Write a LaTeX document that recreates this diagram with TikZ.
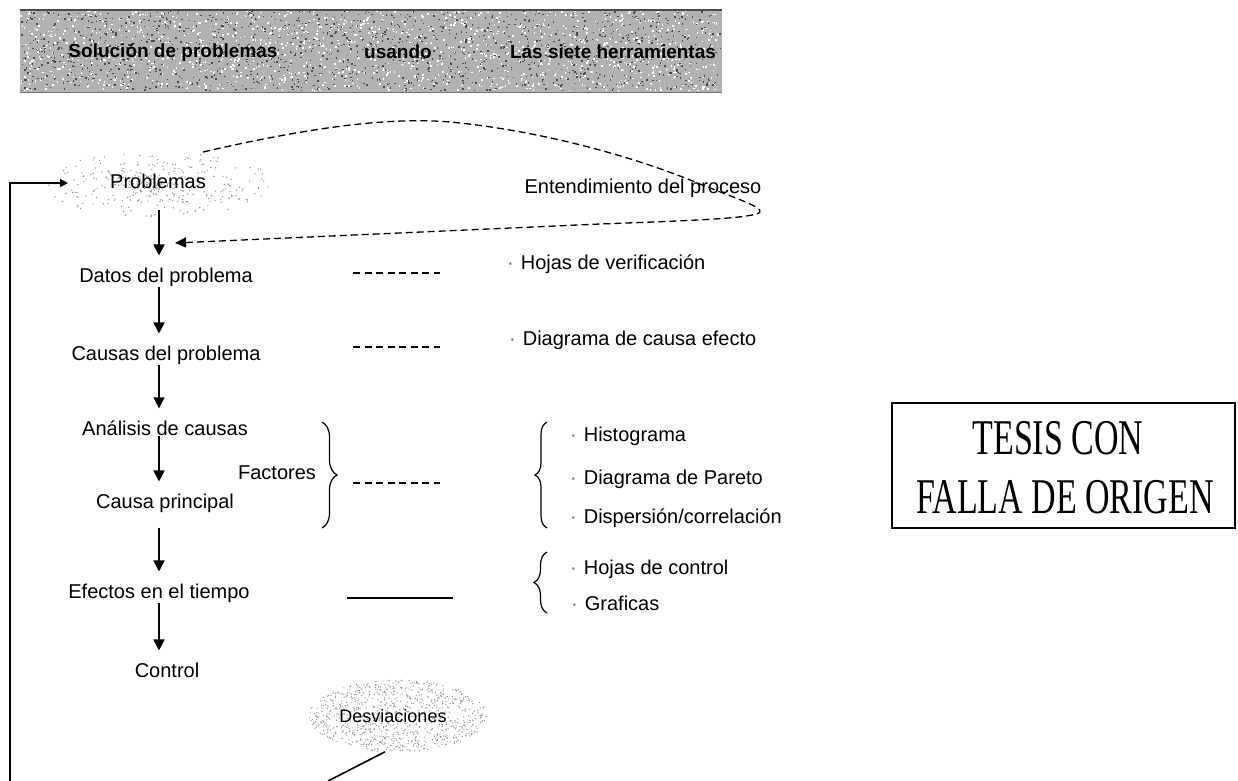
\documentclass[tikz,border=0pt]{standalone}
\usepackage{fontspec}
\setmainfont{Liberation Sans}
\newfontfamily\tesisfont[FakeStretch=0.68]{Liberation Serif}
\usetikzlibrary{arrows.meta,decorations.pathreplacing,shapes.geometric}
\newcommand\itemdot{{\color{black!60}·}\hspace{7pt}}

\begin{document}
\begin{tikzpicture}[x=1pt,y=-1pt,
  lbl/.style={font=\fontsize{20}{24}\selectfont, inner sep=0pt},
  itemlbl/.style={lbl, anchor=west},
  head/.style={font=\fontsize{19}{22}\selectfont\bfseries, inner sep=0pt},
  flow/.style={line width=1.7pt, -{Triangle[length=11pt,width=11pt]}, shorten >=12pt},
  feedback/.style={line width=1.7pt, -{Triangle[length=8pt,width=8pt]}},
  relation/.style={line width=1.3pt, dash pattern=on 7pt off 4.5pt},
  relsolid/.style={line width=1.1pt},
  process/.style={line width=1.3pt, dash pattern=on 7pt off 4pt, -{Triangle[length=11pt,width=10pt]}},
  bracket/.style={line width=1.2pt, decorate, decoration={brace, amplitude=#1}},
  bracket/.default=12pt,
  stamp/.style={draw, line width=1.6pt, inner sep=0pt},
  stamptext/.style={font=\tesisfont\fontsize{50}{54}\selectfont, inner sep=0pt},
]
% page
\fill[white] (0,0) rectangle (1238,780);
\useasboundingbox (0,0) rectangle (1238,780);

% title band with grainy texture
\fill[black!30] (20,10) rectangle (722,92);
\pgfmathsetseed{11}
\foreach \i in {1,...,1400}{
  \pgfmathsetmacro\gx{20+700*rnd}\pgfmathsetmacro\gy{10+80*rnd}
  \fill[white] (\gx,\gy) rectangle ++(1.6,1.6);
}
\foreach \i in {1,...,1400}{
  \pgfmathsetmacro\gx{20+700*rnd}\pgfmathsetmacro\gy{10+80*rnd}
  \fill[black!70] (\gx,\gy) rectangle ++(1.4,1.4);
}
\draw[line width=1.5pt, black!70] (20,10) -- (722,10);
\draw[line width=0.8pt, black!55] (20,92) -- (722,92);
\node[head] (h1) at (173,52) {Solución de problemas};
\node[head] (h2) at (398,52) {usando};
\node[head] (h3) at (613,52) {Las siete herramientas};

% speckled clouds
\node[ellipse, minimum width=232pt, minimum height=66pt, inner sep=0pt] (probcloud) at (159,184) {};
\foreach \i in {1,...,380}{
  \pgfmathsetmacro\cang{360*rnd}\pgfmathsetmacro\crad{rnd}
  \fill[black!45] ({159+116*\crad*cos(\cang)},{184+33*\crad*sin(\cang)}) circle (0.7);
}
\node[ellipse, minimum width=178pt, minimum height=72pt, inner sep=0pt] (desvcloud) at (398,716) {};
\foreach \i in {1,...,900}{
  \pgfmathsetmacro\cang{360*rnd}\pgfmathsetmacro\crad{sqrt(rnd)}
  \fill[black!45] ({398+89*\crad*cos(\cang)},{716+36*\crad*sin(\cang)}) circle (0.65);
}

% main flow
\coordinate (spine) at (159,0);
\node[lbl] (prob) at (158,181) {Problemas};
\node[lbl] (datos) at (166,277) {Datos del problema};
\node[lbl] (causas) at (166,355) {Causas del problema};
\node[lbl] (analisis) at (165,428) {Análisis de causas};
\node[lbl] (causap) at (165,503) {Causa principal};
\node[lbl] (efectos) at (159,593) {Efectos en el tiempo};
\node[lbl] (control) at (167,670) {Control};
\node[lbl] (factores) at (277,473) {Factores};
\node[lbl, font=\fontsize{18}{22}\selectfont] (desv) at (393,716) {Desviaciones};

\draw[flow, shorten <=21pt] (prob.south -| spine) -- (datos.north -| spine);
\draw[flow] (datos.south -| spine) -- (causas.north -| spine);
\draw[flow] (causas.south -| spine) -- (analisis.north -| spine);
\draw[flow] (analisis.south -| spine) -- (causap.north -| spine);
\draw[flow, shorten <=15pt] (causap.south -| spine) -- (efectos.north -| spine);
\draw[flow] (efectos.south -| spine) -- (control.north -| spine);

% feedback loop back to the problems
\coordinate (loopfoot) at (10,781);
\coordinate (probin) at (68,183);
\draw[feedback] (loopfoot) |- (probin);
\coordinate (desvfoot) at (328,781);
\draw[line width=1.6pt] (desvcloud.-110) -- (desvfoot);

% understanding of the process
\node[lbl] (entend) at (643,188) {Entendimiento del proceso};
\coordinate (loopout) at (203,152);
\coordinate (loopback) at (175,243);
\draw[process] (loopout) .. controls (320,125) and (400,116) .. (460,123)
  .. controls (560,134) and (650,163) .. (700,184)
  .. controls (740,200) and (772,210) .. (756,214)
  .. controls (740,219) and (680,221) .. (600,224) -- (loopback);

% tools
\node[itemlbl] (hojasv) at (507,264) {\itemdot Hojas de verificación};
\node[itemlbl] (diagce) at (509,340) {\itemdot Diagrama de causa efecto};
\node[itemlbl] (hist) at (570,436) {\itemdot Histograma};
\node[itemlbl] (pareto) at (570,479) {\itemdot Diagrama de Pareto};
\node[itemlbl] (disp) at (570,518) {\itemdot Dispersión/correlación};
\node[itemlbl] (hojasc) at (570,569) {\itemdot Hojas de control};
\node[itemlbl] (graf) at (571,603) {\itemdot Graficas};

% links between steps and tools
\coordinate (r1a) at (353,273); \coordinate (r1b) at (440,273);
\coordinate (r2a) at (353,347); \coordinate (r2b) at (440,347);
\coordinate (r3a) at (353,483); \coordinate (r3b) at (440,483);
\coordinate (r4a) at (347,598); \coordinate (r4b) at (453,598);
\draw[relation] (r1a) -- (r1b);
\draw[relation] (r2a) -- (r2b);
\draw[relation] (r3a) -- (r3b);
\draw[relsolid] (r4a) -- (r4b);

% braces
\coordinate (fb1) at (322,422); \coordinate (fb2) at (322,528);
\coordinate (tb1) at (547,528); \coordinate (tb2) at (547,422);
\coordinate (cb1) at (547,613); \coordinate (cb2) at (547,552);
\draw[bracket=15pt] (fb1) -- (fb2);
\draw[bracket=12pt] (tb1) -- (tb2);
\draw[bracket=13pt] (cb1) -- (cb2);

% stamp
\node[stamp, minimum width=343pt, minimum height=125pt] (stampbox) at (1063.5,465.5) {};
\node[stamptext] (tesis) at (1058,438) {TESIS CON};
\node[stamptext] (falla) at (1065,497) {FALLA DE ORIGEN};
\end{tikzpicture}
\end{document}
